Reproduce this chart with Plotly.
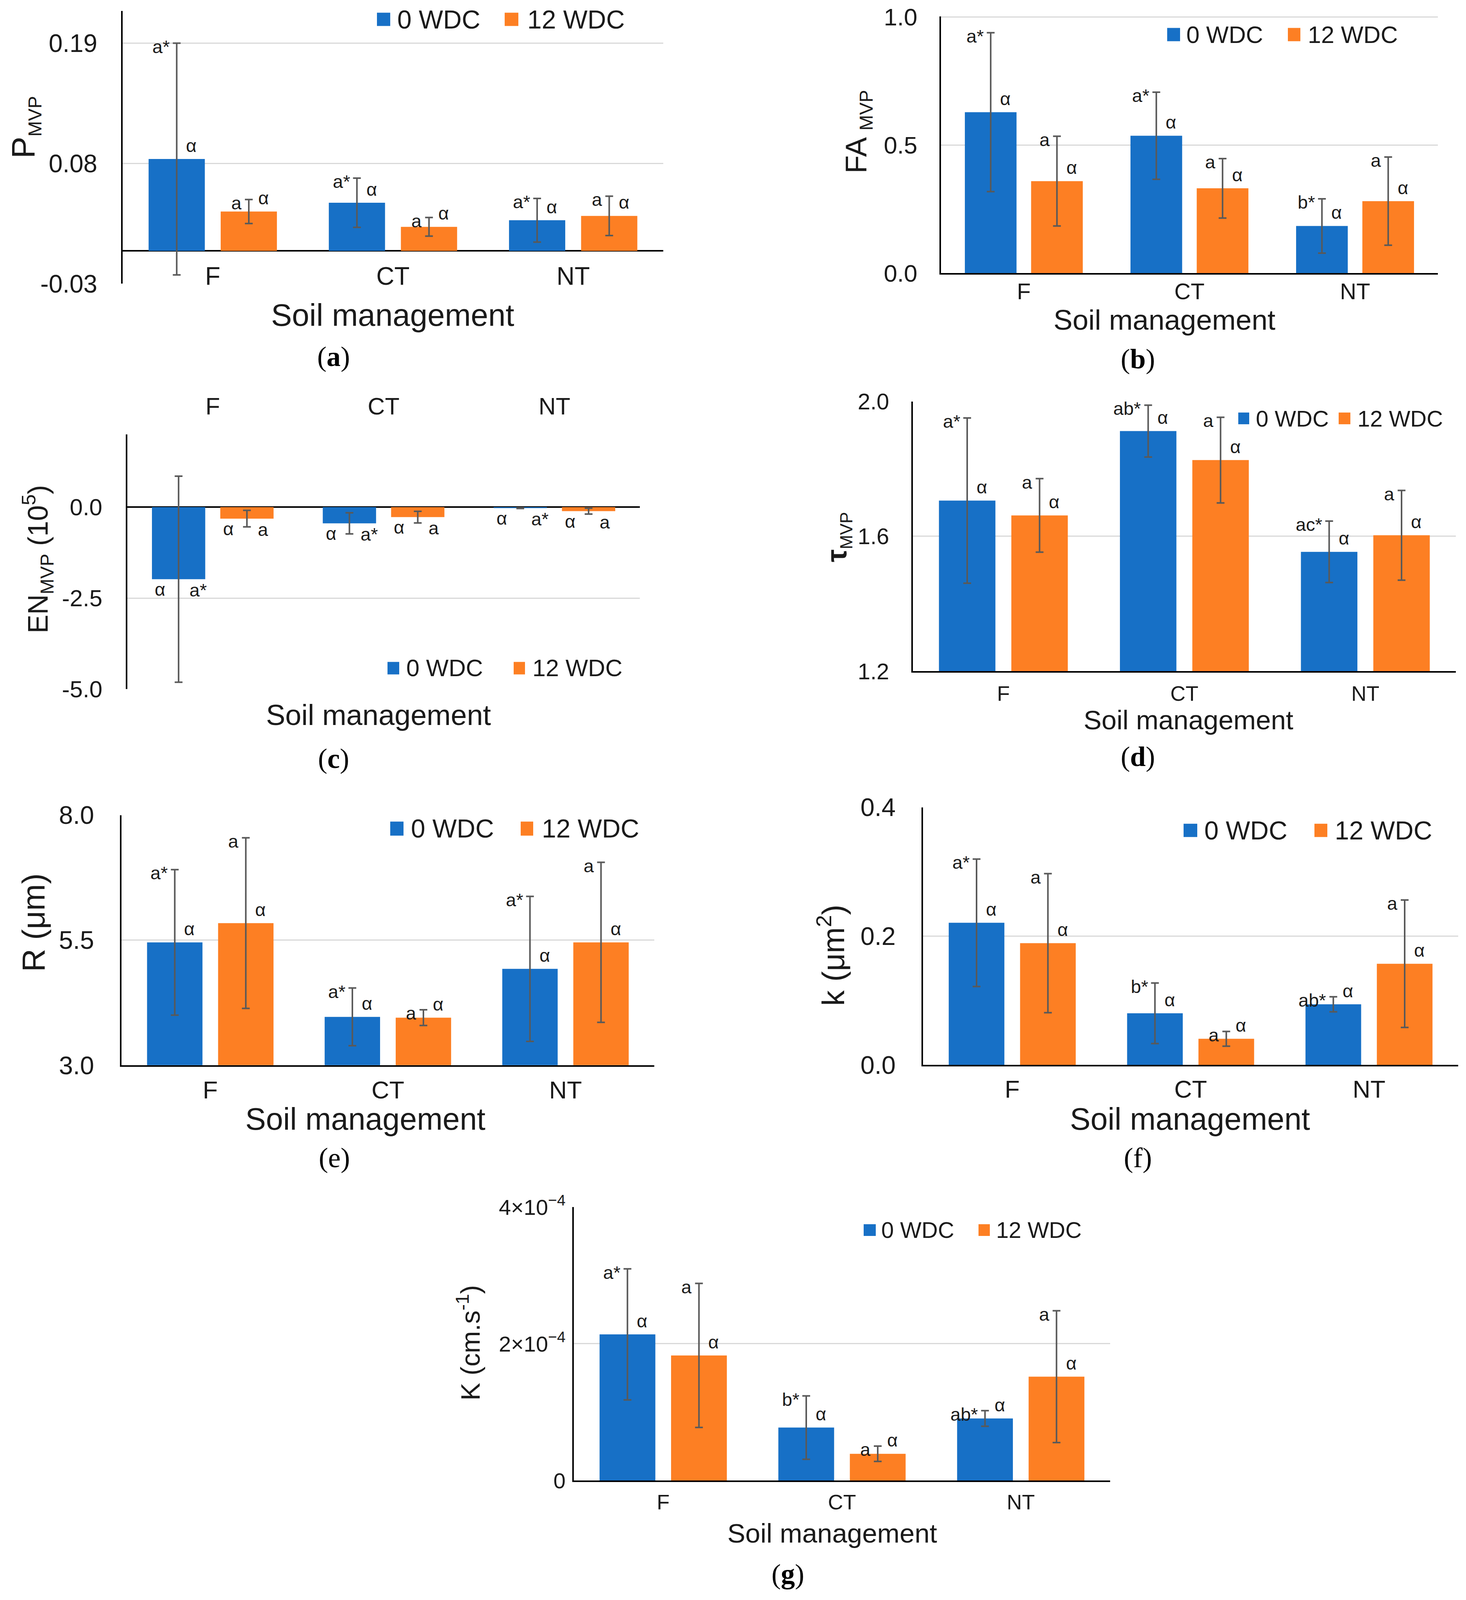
import plotly.graph_objects as go

# the page is photographed in a viewport that is only ~4087 px tall,
# so the whole layout is squeezed vertically to stay visible
REF_W, REF_H = 3753, 4691
PAGE_PAD = 8                      # default body margin of the html page
W = REF_W - PAGE_PAD
HF = 4070
K = 4075 / REF_H                  # vertical squeeze

categories = ["F", "CT", "NT"]
greek = "α"

# (a) P_MVP
p_0 = [0.084, 0.044, 0.028]
p_0_sd = [0.106, 0.0225, 0.020]
p_12 = [0.036, 0.022, 0.032]
p_12_sd = [0.011, 0.0085, 0.018]
p_let_0 = ["a*", "a*", "a*"]
p_let_12 = ["a", "a", "a"]
p_ticks = [-0.03, 0.08, 0.19]
p_ticktext = ["-0.03", "0.08", "0.19"]

# (b) FA_MVP
fa_0 = [0.628, 0.536, 0.184]
fa_0_sd = [0.310, 0.170, 0.106]
fa_12 = [0.359, 0.331, 0.281]
fa_12_sd = [0.175, 0.116, 0.172]
fa_let_0 = ["a*", "a*", "b*"]
fa_let_12 = ["a", "a", "a"]
fa_ticks = [0.0, 0.5, 1.0]
fa_ticktext = ["0.0", "0.5", "1.0"]

# (c) EN_MVP (10^5)
en_0 = [-1.98, -0.445, -0.027]
en_0_sd = [2.83, 0.29, 0.01]
en_12 = [-0.315, -0.274, -0.11]
en_12_sd = [0.226, 0.16, 0.08]
en_let_0 = ["a*", "a*", "a*"]
en_let_12 = ["a", "a", "a"]
en_ticks = [-5.0, -2.5, 0.0]
en_ticktext = ["-5.0", "-2.5", "0.0"]

# (d) tau_MVP
tau_0 = [1.706, 1.912, 1.554]
tau_0_sd = [0.245, 0.077, 0.091]
tau_12 = [1.662, 1.826, 1.603]
tau_12_sd = [0.109, 0.127, 0.133]
tau_let_0 = ["a*", "ab*", "ac*"]
tau_let_12 = ["a", "a", "a"]
tau_ticks = [1.2, 1.6, 2.0]
tau_ticktext = ["1.2", "1.6", "2.0"]

# (e) R (um)
r_0 = [5.455, 3.965, 4.925]
r_0_sd = [1.455, 0.577, 1.45]
r_12 = [5.84, 3.95, 5.455]
r_12_sd = [1.705, 0.157, 1.60]
r_let_0 = ["a*", "a*", "a*"]
r_let_12 = ["a", "a", "a"]
r_ticks = [3.0, 5.5, 8.0]
r_ticktext = ["3.0", "5.5", "8.0"]

# (f) k (um2)
k_0 = [0.2206, 0.080, 0.094]
k_0_sd = [0.099, 0.047, 0.0117]
k_12 = [0.189, 0.0404, 0.157]
k_12_sd = [0.108, 0.0115, 0.099]
k_let_0 = ["a*", "b*", "ab*"]
k_let_12 = ["a", "a", "a"]
k_ticks = [0.0, 0.2, 0.4]
k_ticktext = ["0.0", "0.2", "0.4"]

# (g) K (cm/s)
kc_0 = [2.137e-4, 0.774e-4, 0.907e-4]
kc_0_sd = [0.958e-4, 0.463e-4, 0.114e-4]
kc_12 = [1.829e-4, 0.391e-4, 1.518e-4]
kc_12_sd = [1.053e-4, 0.112e-4, 0.964e-4]
kc_let_0 = ["a*", "b*", "ab*"]
kc_let_12 = ["a", "a", "a"]
kc_ticks = [0.0, 2e-4, 4e-4]
kc_ticktext = ["0", "2×10<sup>−4</sup>", "4×10<sup>−4</sup>"]

BLUE = "#1770C6"
ORANGE = "#FD7F23"
ERR = "#595959"
GRID = "#D9D9D9"
TXT = "#1a1a1a"
FONT = "Liberation Sans"
SERIF = "Liberation Serif"


def fx(px):
    return (px - PAGE_PAD) / W


def fy(py):
    return 1 - (py * K - PAGE_PAD) / HF


# box = x0, x1, ytop, ybottom (reference pixels); fonts = tick, category, x title, legend
# mode: where the category labels sit (under the zero line / bottom / top)
panels = [
    dict(data=(p_0, p_0_sd, p_12, p_12_sd), lets=(p_let_0, p_let_12), box=(314, 1698, 32, 836),
         rng=[-0.03, 0.2195], ticks=(p_ticks, p_ticktext), fonts=(64, 64, 80, 66), mode="zero",
         cat_off=78, tick_gap=58, title_xy=(1006, 928), cap="<b>a</b>", cap_xy=(854, 1051),
         ytitle="P<sub><span style='font-size:48px'>MVP</span></sub>", ytitle_font=84, ytitle_xy=(64, 375),
         legend=(965, 999, 1015, 1292, 1327, 1348, 57, 17)),
    dict(data=(fa_0, fa_0_sd, fa_12, fa_12_sd), lets=(fa_let_0, fa_let_12), box=(2409, 3681, 48, 805),
         rng=[0, 1.002], ticks=(fa_ticks, fa_ticktext), fonts=(62, 58, 73, 61), mode="bottom",
         cat_off=54, tick_gap=54, title_xy=(2981, 942), cap="<b>b</b>", cap_xy=(2913, 1058),
         ytitle="FA <sub><span style='font-size:48px'>MVP</span></sub>", ytitle_font=76, ytitle_xy=(2196, 388),
         legend=(2988, 3021, 3035, 3297, 3329, 3346, 102, 17)),
    dict(data=(en_0, en_0_sd, en_12, en_12_sd), lets=(en_let_0, en_let_12), box=(326, 1638, 1280, 2031),
         rng=[-5, 2], ticks=(en_ticks, en_ticktext), fonts=(60, 61, 74, 61), mode="top",
         cat_off=80, tick_gap=58, title_xy=(969, 2107), cap="<b>c</b>", cap_xy=(854, 2236),
         ytitle="EN<sub><span style='font-size:48px'>MVP</span></sub> (10<sup>5</sup>)", ytitle_font=72,
         ytitle_xy=(96, 1648), legend=(992, 1022, 1038, 1315, 1344, 1361, 1969, 16)),
    dict(data=(tau_0, tau_0_sd, tau_12, tau_12_sd), lets=(tau_let_0, tau_let_12), box=(2337, 3727, 1183, 1978),
         rng=[1.2, 2.0], ticks=(tau_ticks, tau_ticktext), fonts=(58, 54, 69, 58), mode="bottom",
         cat_off=66, tick_gap=55, title_xy=(3042, 2122), cap="<b>d</b>", cap_xy=(2913, 2230),
         ytitle="<b>τ</b><sub><span style='font-size:44px'>MVP</span></sub>", ytitle_font=74,
         ytitle_xy=(2146, 1583), legend=(3170, 3198, 3213, 3427, 3457, 3473, 1233, 15)),
    dict(data=(r_0, r_0_sd, r_12, r_12_sd), lets=(r_let_0, r_let_12), box=(311, 1675, 2402, 3139),
         rng=[3, 8], ticks=(r_ticks, r_ticktext), fonts=(65, 63, 79, 66), mode="bottom",
         cat_off=74, tick_gap=63, title_xy=(935, 3297), cap="e", cap_xy=(856, 3412),
         ytitle="R (μm)", ytitle_font=82, ytitle_xy=(86, 2719),
         legend=(999, 1033, 1050, 1333, 1365, 1385, 2442, 18)),
    dict(data=(k_0, k_0_sd, k_12, k_12_sd), lets=(k_let_0, k_let_12), box=(2363, 3733, 2379, 3138),
         rng=[0, 0.4], ticks=(k_ticks, k_ticktext), fonts=(65, 63, 79, 66), mode="bottom",
         cat_off=72, tick_gap=63, title_xy=(3046, 3297), cap="f", cap_xy=(2913, 3412),
         ytitle="k (μm<sup>2</sup>)", ytitle_font=80, ytitle_xy=(2128, 2816),
         legend=(3030, 3065, 3081, 3365, 3398, 3415, 2447, 17)),
    dict(data=(kc_0, kc_0_sd, kc_12, kc_12_sd), lets=(kc_let_0, kc_let_12), box=(1469, 2842, 3557, 4363),
         rng=[0, 4e-4], ticks=(kc_ticks, kc_ticktext), fonts=(56, 54, 69, 58), mode="bottom",
         cat_off=64, tick_gap=16, title_xy=(2130, 4519), cap="<b>g</b>", cap_xy=(2017, 4639),
         ytitle="K (cm.s<sup>-1</sup>)", ytitle_font=68, ytitle_xy=(1200, 3958),
         legend=(2211, 2242, 2254, 2505, 2534, 2548, 3625, 15)),
]

# default offset of plotly tick labels from their axis, as a share of the font size
LABEL_BASE = {"zero": 0.72, "bottom": 0.93, "top": 0.52}

fig = go.Figure()
annotations = []
shapes = []
axes = {}

for i, p in enumerate(panels, start=1):
    sfx = "" if i == 1 else str(i)
    xa, ya = "x" + sfx, "y" + sfx
    v0, e0, v12, e12 = p["data"]
    l0, l12 = p["lets"]
    tick_f, cat_f, title_f, leg_f = p["fonts"]
    x0, x1, yt, yb = p["box"]
    lo, hi = p["rng"]
    mode = p["mode"]

    for vals, errs, color, name in ((v0, e0, BLUE, "0 WDC"), (v12, e12, ORANGE, "12 WDC")):
        fig.add_trace(go.Bar(
            x=categories, y=vals, name=name, showlegend=False,
            marker=dict(color=color, line=dict(width=0)),
            error_y=dict(type="data", array=errs, visible=True, color=ERR, thickness=4, width=10),
            xaxis=xa, yaxis=ya))

    standoff = int(round(p["cat_off"] * K - LABEL_BASE[mode] * cat_f))
    xaxis = dict(domain=[fx(x0), fx(x1)], anchor=ya, type="category", showgrid=False, zeroline=False,
                 showline=True, linecolor="black", linewidth=4, ticks="", automargin=False,
                 tickfont=dict(size=cat_f, color=TXT), ticklabelstandoff=standoff)
    if mode == "zero":
        zero_px = yb - (0 - lo) / (hi - lo) * (yb - yt)
        xaxis.update(showline=False, anchor="free", position=fy(zero_px))
    elif mode == "top":
        xaxis.update(showline=False, side="top")

    yaxis = dict(domain=[fy(yb), fy(yt)], anchor=xa, range=[lo, hi], automargin=False,
                 tickvals=p["ticks"][0], ticktext=p["ticks"][1], tickfont=dict(size=tick_f, color=TXT),
                 showgrid=True, gridcolor=GRID, gridwidth=3, showline=True, linecolor="black", linewidth=4,
                 zeroline=mode in ("zero", "top"), zerolinecolor="black", zerolinewidth=4,
                 ticks="", ticklabelstandoff=p["tick_gap"] - 10)
    axes["xaxis" + sfx] = xaxis
    axes["yaxis" + sfx] = yaxis

    # significance letters next to each bar
    lab_font = dict(family=FONT, size=47, color=TXT)
    for off, vals, errs, lets in ((-0.2, v0, e0, l0), (0.2, v12, e12, l12)):
        for j in range(len(categories)):
            if mode == "top":
                annotations.append(dict(x=j + off, y=vals[j], xref=xa, yref=ya, text=greek, showarrow=False,
                                        xanchor="right", yanchor="middle", xshift=-32, yshift=-30 * K,
                                        font=lab_font))
                annotations.append(dict(x=j + off, y=vals[j], xref=xa, yref=ya, text=lets[j], showarrow=False,
                                        xanchor="left", yanchor="middle", xshift=26, yshift=-32 * K,
                                        font=lab_font))
            else:
                annotations.append(dict(x=j + off, y=vals[j] + errs[j], xref=xa, yref=ya, text=lets[j],
                                        showarrow=False, xanchor="right", yanchor="middle", xshift=-16,
                                        yshift=-10 * K, font=lab_font))
                annotations.append(dict(x=j + off, y=vals[j], xref=xa, yref=ya, text=greek, showarrow=False,
                                        xanchor="left", yanchor="middle", xshift=22, yshift=40 * K,
                                        font=lab_font))

    # x title, caption, y title
    tx, ty = p["title_xy"]
    annotations.append(dict(x=fx(tx), y=fy(ty), xref="paper", yref="paper", text="Soil management",
                            showarrow=False, xanchor="center", yanchor="middle",
                            font=dict(family=FONT, size=title_f, color=TXT)))
    cx, cy = p["cap_xy"]
    annotations.append(dict(x=fx(cx), y=fy(cy), xref="paper", yref="paper", text="(" + p["cap"] + ")",
                            showarrow=False, xanchor="center", yanchor="middle",
                            font=dict(family=SERIF, size=72, color="black")))
    yx, yy = p["ytitle_xy"]
    annotations.append(dict(x=fx(yx), y=fy(yy), xref="paper", yref="paper", text=p["ytitle"],
                            showarrow=False, textangle=-90, xanchor="center", yanchor="middle",
                            font=dict(family=FONT, size=p["ytitle_font"], color=TXT)))

    # legend: coloured squares + labels
    s1a, s1b, t1, s2a, s2b, t2, lyc, half = p["legend"]
    for sa, sb, tl, color, name in ((s1a, s1b, t1, BLUE, "0 WDC"), (s2a, s2b, t2, ORANGE, "12 WDC")):
        shapes.append(dict(type="rect", xref="paper", yref="paper", x0=fx(sa), x1=fx(sb),
                           y0=fy(lyc) - half / HF, y1=fy(lyc) + half / HF, fillcolor=color, line=dict(width=0)))
        annotations.append(dict(x=fx(tl), y=fy(lyc), xref="paper", yref="paper", text=name, showarrow=False,
                                xanchor="left", yanchor="middle", font=dict(family=FONT, size=leg_f, color=TXT)))

fig.update_layout(
    width=W, height=HF, autosize=False,
    margin=dict(l=0, r=0, t=0, b=0, pad=0, autoexpand=False),
    paper_bgcolor="white", plot_bgcolor="white",
    barmode="group", bargap=0.2, bargroupgap=0.22,
    font=dict(family=FONT, color=TXT),
    showlegend=False,
    annotations=annotations, shapes=shapes,
    **axes,
)

fig.write_html("out.html")
